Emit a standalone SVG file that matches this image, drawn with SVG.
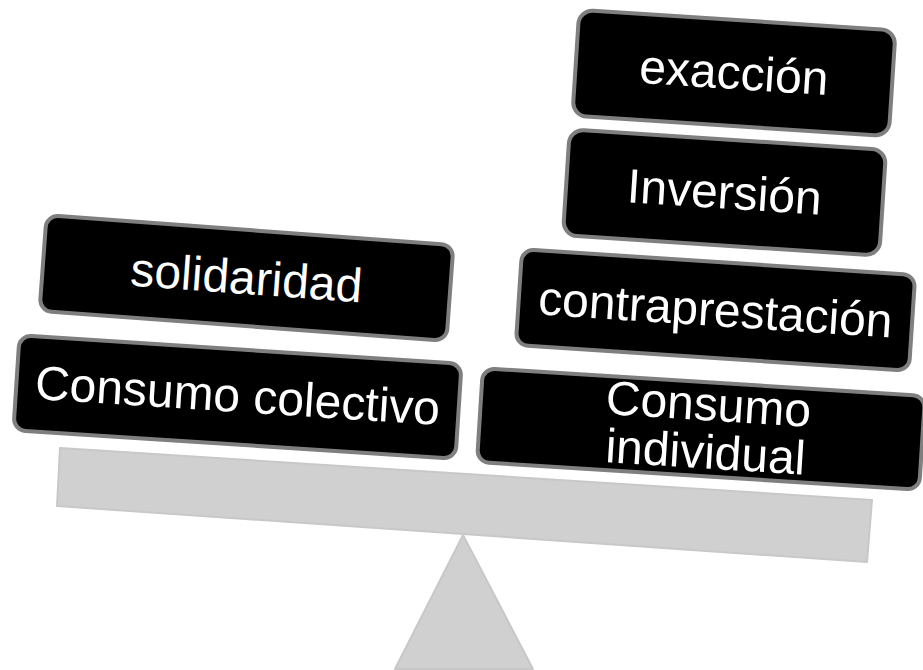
<svg xmlns="http://www.w3.org/2000/svg" width="923" height="670" viewBox="0 0 923 670">
<style>
.box{fill:#000;stroke:#7f7f7f;stroke-width:4}
.lbl{fill:#fff;font-family:"Liberation Sans",Arial,sans-serif;font-size:48px;text-anchor:middle}
.scale{fill:#d0d0d0;stroke:#c8c8c8;stroke-width:2;stroke-linejoin:round}
</style>
<g id="balance">
<polygon class="scale" points="463,535 395,669 533,669"/>
<polygon class="scale" points="60,448 872,500 867,562 57,506"/>
</g>
<g id="connectors"/>
<g id="n-solidaridad" transform="translate(246.5,278) rotate(4.2)">
<rect class="box" x="-204" y="-48" width="408" height="96" rx="12"/>
<text class="lbl" x="0" y="16">solidaridad</text>
</g>
<g id="n-colectivo" transform="translate(237.5,397) rotate(3.7)">
<rect class="box" x="-221.5" y="-47.5" width="443" height="95" rx="12"/>
<text class="lbl" x="0" y="15">Consumo colectivo</text>
</g>
<g id="n-exaccion" transform="translate(734,73) rotate(3.7)">
<rect class="box" x="-158.5" y="-53" width="317" height="106" rx="14"/>
<text class="lbl" x="0" y="16">exacción</text>
</g>
<g id="n-inversion" transform="translate(724.5,192.5) rotate(3.7)">
<rect class="box" x="-158.5" y="-53" width="317" height="106" rx="14"/>
<text class="lbl" x="0" y="16">Inversión</text>
</g>
<g id="n-contraprestacion" transform="translate(715.5,310) rotate(3.75)">
<rect class="box" x="-197" y="-48" width="394" height="96" rx="12"/>
<text class="lbl" x="0" y="16">contraprestación</text>
</g>
<g id="n-individual" transform="translate(701,429) rotate(3.6)">
<rect class="box" x="-221.5" y="-47" width="443" height="94" rx="12"/>
<text class="lbl" x="6" y="-9">Consumo</text>
<text class="lbl" x="6" y="39">individual</text>
</g>
</svg>
